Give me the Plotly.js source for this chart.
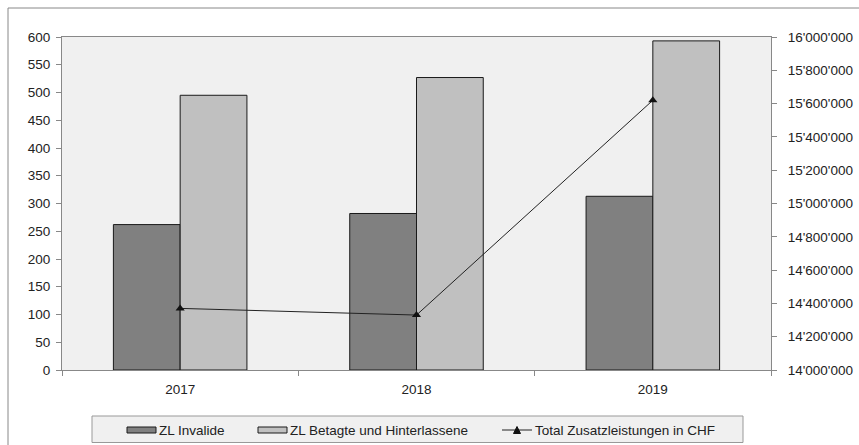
<!DOCTYPE html>
<html>
<head>
<meta charset="utf-8">
<script src="https://cdn.plot.ly/plotly-3.0.1.min.js"></script>
<style>html,body{margin:0;padding:0;background:#fff;}#chart{width:859px;height:445px;}</style>
</head>
<body>
<div id="chart"></div>
<script>
const years = ["2017", "2018", "2019"];
const zlInvalide = [262, 282, 313];
const zlBetagte = [495, 527, 593];
const totalCHF = [14370000, 14330000, 15620000];
const leftTicks = [0, 50, 100, 150, 200, 250, 300, 350, 400, 450, 500, 550, 600];
const seriesNames = ["ZL Invalide", "ZL Betagte und Hinterlassene", "Total Zusatzleistungen in CHF"];

// plot area in pixels (for converting legend positions to paper coords)
const PL = 62, PR = 771, PT = 37, PB = 370;
const px = v => (v - PL) / (PR - PL);
const py = v => (PB - v) / (PB - PT);

const traces = [
  {type: "bar", name: seriesNames[0], x: years, y: zlInvalide,
   marker: {color: "#808080", line: {color: "#1a1a1a", width: 1}}},
  {type: "bar", name: seriesNames[1], x: years, y: zlBetagte,
   marker: {color: "#c0c0c0", line: {color: "#1a1a1a", width: 1}}},
  {type: "scatter", mode: "lines+markers", name: seriesNames[2], x: years, y: totalCHF,
   yaxis: "y2", line: {color: "#222", width: 1}, marker: {symbol: "triangle-up", size: 8, color: "#111"}}
];

const FONT = "Liberation Sans, Arial, sans-serif";
const shapes = [
  // outer chart border
  {type: "rect", xref: "paper", yref: "paper", x0: px(8), x1: px(1000), y0: py(1000), y1: py(8),
   line: {color: "#888", width: 1}, fillcolor: "rgba(0,0,0,0)", layer: "below"},
  // legend box
  {type: "rect", xref: "paper", yref: "paper", x0: px(92), x1: px(743), y0: py(442.5), y1: py(416),
   line: {color: "#999", width: 1}, fillcolor: "#f0f0f0", layer: "below"},
  // swatch 1
  {type: "rect", xref: "paper", yref: "paper", x0: px(127), x1: px(156), y0: py(433), y1: py(427),
   line: {color: "#1a1a1a", width: 1}, fillcolor: "#808080"},
  // swatch 2
  {type: "rect", xref: "paper", yref: "paper", x0: px(258), x1: px(287), y0: py(433), y1: py(427),
   line: {color: "#1a1a1a", width: 1}, fillcolor: "#c0c0c0"},
  // line symbol
  {type: "line", xref: "paper", yref: "paper", x0: px(502), x1: px(532), y0: py(430), y1: py(430),
   line: {color: "#222", width: 1}},
  {type: "path", xref: "paper", yref: "paper",
   path: "M " + px(513.5) + " " + py(433.5) + " L " + px(520.5) + " " + py(433.5) + " L " + px(517) + " " + py(426.5) + " Z",
   line: {color: "#111", width: 1}, fillcolor: "#111"}
];

const annotations = [
  {x: px(157), y: py(430), text: seriesNames[0]},
  {x: px(288), y: py(430), text: seriesNames[1]},
  {x: px(533), y: py(430), text: seriesNames[2]}
].map(a => Object.assign({xref: "paper", yref: "paper", xanchor: "left", yanchor: "middle",
  showarrow: false, font: {family: FONT, size: 13.5, color: "#222"}}, a));

const layout = {
  width: 859, height: 445,
  margin: {l: PL, r: 859 - PR, t: PT, b: 445 - PB},
  paper_bgcolor: "#ffffff",
  plot_bgcolor: "#f0f0f0",
  separators: ".'",
  font: {family: FONT, size: 13.5, color: "#222"},
  barmode: "group",
  bargap: 0.435,
  bargroupgap: 0,
  showlegend: false,
  xaxis: {type: "category", showline: true, linecolor: "#888", linewidth: 1, mirror: true,
    ticks: "outside", ticklen: 5, tickcolor: "#888", tickson: "boundaries",
    showgrid: false, ticklabelstandoff: 7},
  yaxis: {range: [0, 600], tickvals: leftTicks, showline: true, linecolor: "#888", linewidth: 1,
    ticks: "outside", ticklen: 5, tickcolor: "#888", showgrid: false, zeroline: false,
    ticklabelstandoff: 3},
  yaxis2: {overlaying: "y", side: "right", range: [14000000, 16000000], dtick: 200000,
    tickformat: ",d", showline: true, linecolor: "#888", linewidth: 1,
    ticks: "outside", ticklen: 5, tickcolor: "#888", showgrid: false, zeroline: false,
    ticklabelstandoff: 8},
  shapes: shapes,
  annotations: annotations
};

Plotly.newPlot("chart", traces, layout, {displayModeBar: false, staticPlot: true});
</script>
</body>
</html>
